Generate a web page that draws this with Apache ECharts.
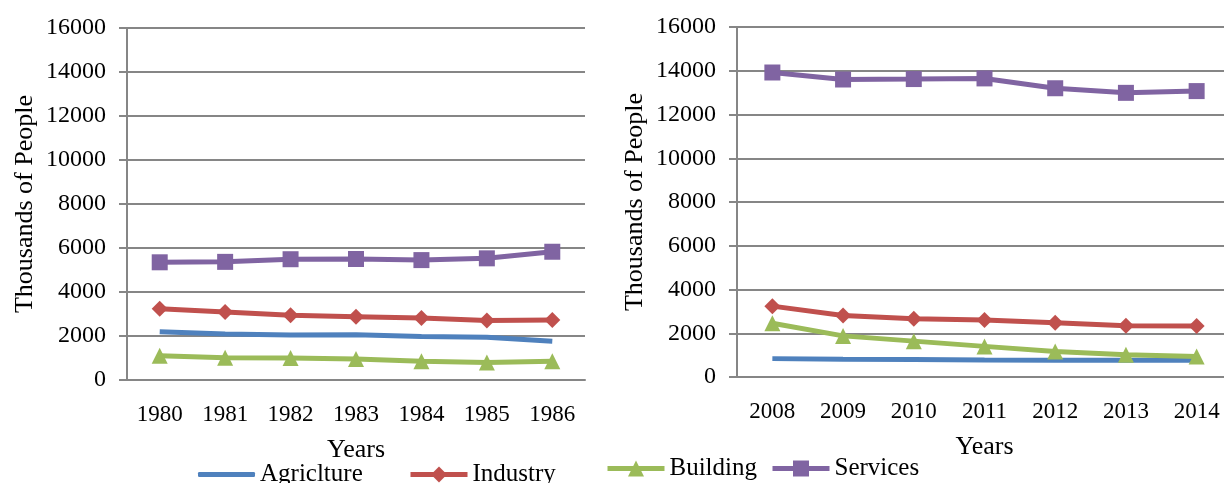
<!DOCTYPE html>
<html lang="en">
<head>
    <meta charset="UTF-8">
    <title>Employment by sector</title>
    <script src="https://cdn.jsdelivr.net/npm/echarts@6/dist/echarts.min.js"></script>
    <style>
        html, body { margin: 0; padding: 0; background: #fff; overflow: hidden; }
        /* a little wider than the window: the right plot runs past the edge */
        #chart { width: 1232px; height: 483px; }
    </style>
</head>
<body>
    <div id="chart"></div>
    <script>
        // categories
        var yearsEarly = ['1980', '1981', '1982', '1983', '1984', '1985', '1986'];
        var yearsLate = ['2008', '2009', '2010', '2011', '2012', '2013', '2014'];

        // values (thousands of people)
        var agricultureEarly = [2190, 2090, 2050, 2060, 1980, 1940, 1760];
        var industryEarly = [3240, 3090, 2940, 2880, 2820, 2700, 2730];
        var buildingEarly = [1100, 1010, 1000, 960, 850, 800, 850];
        var servicesEarly = [5350, 5370, 5490, 5500, 5450, 5530, 5830];

        var agricultureLate = [840, 810, 800, 780, 770, 770, 770];
        var industryLate = [3240, 2810, 2660, 2610, 2480, 2340, 2330];
        var buildingLate = [2460, 1880, 1640, 1400, 1170, 1020, 940];
        var servicesLate = [13920, 13600, 13620, 13650, 13200, 12990, 13070];

        // spelled as in the original legend
        var seriesNames = ['Agriclture', 'Industry', 'Building', 'Services'];
        var seriesColors = ['#4f81bd', '#c0504d', '#9bbb59', '#8064a2'];
        var seriesSymbols = ['none', 'diamond', 'triangle', 'rect'];
        var yTicks = { min: 0, max: 16000, interval: 2000 };

        var font = 'Liberation Serif';
        var gray = '#868686';

        function xAxis(gridIndex, data) {
            return {
                type: 'category',
                gridIndex: gridIndex,
                data: data,
                name: 'Years',
                nameLocation: 'middle',
                nameGap: 57,
                nameTextStyle: { fontFamily: font, fontSize: 26, color: '#000' },
                axisLine: { lineStyle: { color: gray, width: 2 } },
                axisTick: { length: 8, lineStyle: { color: gray, width: 2 } },
                axisLabel: { fontFamily: font, fontSize: 23, color: '#000', margin: 23 },
                splitLine: { show: false }
            };
        }

        function yAxis(gridIndex) {
            return {
                type: 'value',
                gridIndex: gridIndex,
                min: yTicks.min,
                max: yTicks.max,
                interval: yTicks.interval,
                name: 'Thousands of People',
                nameLocation: 'middle',
                nameGap: 89,
                nameTextStyle: { fontFamily: font, fontSize: 26, color: '#000' },
                axisLine: { show: true, lineStyle: { color: gray, width: 2 } },
                axisTick: { show: true, length: 8, lineStyle: { color: gray, width: 2 } },
                axisLabel: {
                    fontFamily: font, fontSize: 24, color: '#000', margin: 21,
                    formatter: function (v) { return String(v); }
                },
                splitLine: { lineStyle: { color: gray, width: 2 } }
            };
        }

        function makeSeries(idx, data, axisIndex) {
            return {
                name: seriesNames[idx],
                type: 'line',
                xAxisIndex: axisIndex,
                yAxisIndex: axisIndex,
                data: data,
                symbol: seriesSymbols[idx],
                symbolSize: 16,
                showAllSymbol: true,
                lineStyle: { color: seriesColors[idx], width: 5 },
                itemStyle: { color: seriesColors[idx] },
                emphasis: { disabled: true }
            };
        }

        // one legend per item so each sits where it does in the picture
        // (the first two sit a few pixels lower than the last two)
        var legendLeft = [198, 408, 605, 770];
        var legendTop = [462, 462, 456, 456];
        var legends = seriesNames.map(function (name, i) {
            var noMarker = seriesSymbols[i] === 'none';
            return {
                data: [noMarker ? { name: name, icon: 'roundRect' } : name],
                left: legendLeft[i],
                top: legendTop[i],
                padding: 0,
                itemWidth: 57,
                itemHeight: noMarker ? 5 : 20,
                itemGap: 0,
                lineStyle: { width: 5 },
                textStyle: { fontFamily: font, fontSize: 25, color: '#000' }
            };
        });

        var chart = echarts.init(document.getElementById('chart'));
        chart.setOption({
            backgroundColor: '#fff',
            animation: false,
            legend: legends,
            grid: [
                { left: 127, right: 647, top: 28, bottom: 103 },
                { left: 737, right: 0, top: 27, bottom: 106 }
            ],
            xAxis: [xAxis(0, yearsEarly), xAxis(1, yearsLate)],
            yAxis: [yAxis(0), yAxis(1)],
            series: [
                makeSeries(0, agricultureEarly, 0),
                makeSeries(1, industryEarly, 0),
                makeSeries(2, buildingEarly, 0),
                makeSeries(3, servicesEarly, 0),
                makeSeries(0, agricultureLate, 1),
                makeSeries(1, industryLate, 1),
                makeSeries(2, buildingLate, 1),
                makeSeries(3, servicesLate, 1)
            ]
        });
    </script>
</body>
</html>
